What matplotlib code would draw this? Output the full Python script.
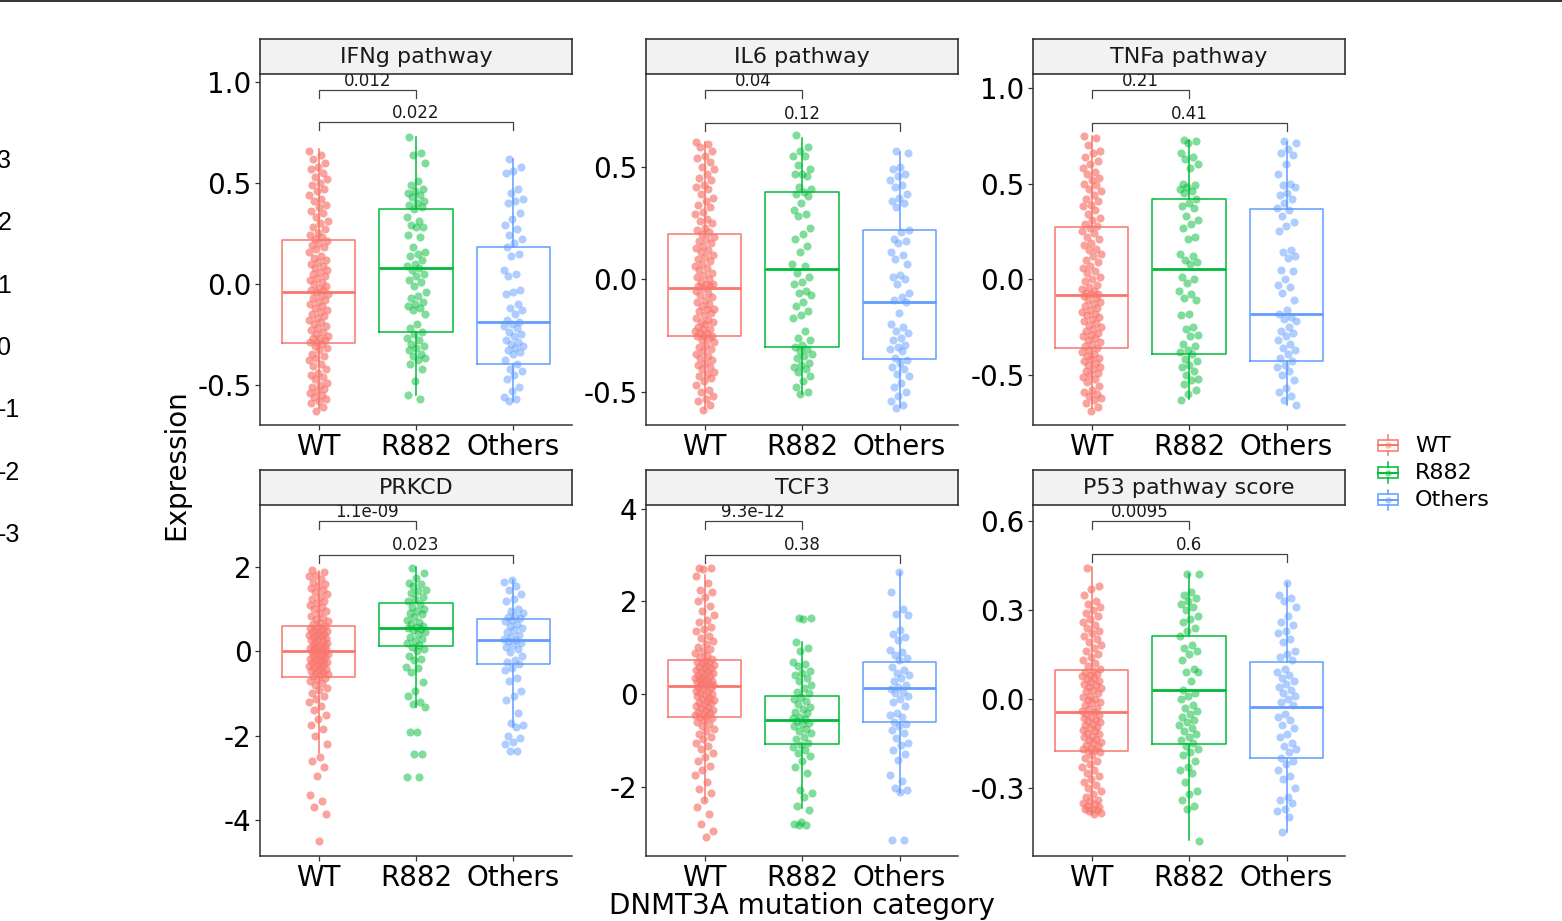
import matplotlib
matplotlib.use("Agg")
import matplotlib.pyplot as plt
import numpy as np
from matplotlib.patches import Rectangle

plt.rcParams["font.family"] = "DejaVu Sans"
plt.rcParams["axes.unicode_minus"] = False

W, H = 1562, 921

GROUPS = ["WT", "R882", "Others"]
COLORS = ["#F8766D", "#00BA38", "#619CFF"]
PANELS = ["IFNg pathway", "IL6 pathway", "TNFa pathway",
          "PRKCD", "TCF3", "P53 pathway score"]

P_VALUES = [["0.012", "0.022"], ["0.04", "0.12"], ["0.21", "0.41"],
            ["1.1e-09", "0.023"], ["9.3e-12", "0.38"], ["0.0095", "0.6"]]
BRACKET_Y = [[0.96, 0.80], [0.84, 0.693], [0.988, 0.815],
             [3.08, 2.29], [3.73, 3.01], [0.599, 0.487]]

Y_LIMITS = [(-0.70, 1.04), (-0.647, 0.913), (-0.763, 1.073),
            (-4.85, 3.47), (-3.5, 4.08), (-0.53, 0.653)]
Y_TICKS = [[-0.5, 0.0, 0.5, 1.0], [-0.5, 0.0, 0.5], [-0.5, 0.0, 0.5, 1.0],
           [-4, -2, 0, 2], [-2, 0, 2, 4], [-0.3, 0.0, 0.3, 0.6]]
Y_TICK_LABELS = [["-0.5", "0.0", "0.5", "1.0"], ["-0.5", "0.0", "0.5"],
                 ["-0.5", "0.0", "0.5", "1.0"], ["-4", "-2", "0", "2"],
                 ["-2", "0", "2", "4"], ["-0.3", "0.0", "0.3", "0.6"]]

# box statistics per panel, order WT / R882 / Others
MEDIANS = [[-0.04, 0.08, -0.19], [-0.04, 0.045, -0.10], [-0.084, 0.052, -0.18],
           [0.0, 0.56, 0.26], [0.165, -0.554, 0.12], [-0.046, 0.029, -0.029]]
Q1 = [[-0.292, -0.24, -0.40], [-0.253, -0.30, -0.353], [-0.36, -0.392, -0.43],
      [-0.60, 0.134, -0.31], [-0.49, -1.086, -0.60], [-0.176, -0.153, -0.199]]
Q3 = [[0.218, 0.37, 0.183], [0.204, 0.39, 0.218], [0.272, 0.418, 0.366],
      [0.60, 1.146, 0.76], [0.734, -0.036, 0.70], [0.097, 0.211, 0.124]]
WHISKER_LO = [[-0.615, -0.55, -0.58], [-0.575, -0.51, -0.565], [-0.675, -0.625, -0.66],
              [-2.4, -1.32, -1.79], [-2.32, -2.47, -2.14], [-0.392, -0.476, -0.448]]
WHISKER_HI = [[0.67, 0.73, 0.62], [0.61, 0.63, 0.565], [0.75, 0.727, 0.718],
              [1.9, 2.0, 1.70], [2.57, 1.13, 2.63], [0.443, 0.42, 0.389]]

# sample values (read / estimated from the picture)
WT_POINTS = [
    [0.66, 0.64, 0.62, 0.60, 0.58, 0.57, 0.55, 0.53, 0.52, 0.50, 0.49, 0.47, 0.46, 0.44,
     0.42, 0.41, 0.39, 0.38, 0.36, 0.35, 0.33, 0.31, 0.30, 0.28, 0.27, 0.25, 0.24, 0.23,
     0.22, 0.21, 0.20, 0.19, 0.18, 0.17, 0.16, 0.14, 0.13, 0.12, 0.11, 0.10, 0.09, 0.08,
     0.07, 0.06, 0.05, 0.04, 0.03, 0.02, 0.01, 0.00, -0.01, -0.02, -0.03, -0.03, -0.04,
     -0.05, -0.06, -0.07, -0.08, -0.09, -0.10, -0.11, -0.12, -0.13, -0.14, -0.15, -0.16,
     -0.17, -0.18, -0.19, -0.20, -0.21, -0.22, -0.23, -0.24, -0.25, -0.26, -0.27, -0.27,
     -0.28, -0.29, -0.29, -0.30, -0.31, -0.32, -0.33, -0.35, -0.36, -0.37, -0.38, -0.40,
     -0.41, -0.42, -0.44, -0.45, -0.46, -0.47, -0.49, -0.50, -0.51, -0.52, -0.53, -0.54,
     -0.55, -0.56, -0.57, -0.58, -0.59, -0.61, -0.63],
    [0.61, 0.60, 0.59, 0.57, 0.55, 0.54, 0.52, 0.50, 0.49, 0.47, 0.45, 0.44, 0.42, 0.41,
     0.40, 0.38, 0.36, 0.35, 0.33, 0.32, 0.30, 0.29, 0.27, 0.26, 0.25, 0.23, 0.22, 0.21,
     0.20, 0.19, 0.18, 0.17, 0.16, 0.15, 0.14, 0.13, 0.12, 0.11, 0.10, 0.09, 0.08, 0.07,
     0.06, 0.05, 0.04, 0.03, 0.02, 0.01, 0.00, -0.01, -0.02, -0.02, -0.03, -0.03, -0.04,
     -0.05, -0.06, -0.07, -0.08, -0.09, -0.10, -0.11, -0.12, -0.13, -0.13, -0.14, -0.15,
     -0.16, -0.17, -0.18, -0.19, -0.19, -0.20, -0.21, -0.22, -0.22, -0.23, -0.24, -0.24,
     -0.25, -0.25, -0.25, -0.26, -0.27, -0.28, -0.29, -0.30, -0.31, -0.32, -0.33, -0.34,
     -0.35, -0.36, -0.37, -0.38, -0.39, -0.40, -0.41, -0.42, -0.43, -0.44, -0.45, -0.47,
     -0.49, -0.50, -0.52, -0.53, -0.54, -0.56, -0.58],
    [0.75, 0.74, 0.70, 0.67, 0.66, 0.64, 0.62, 0.60, 0.58, 0.56, 0.55, 0.53, 0.52, 0.50,
     0.49, 0.47, 0.46, 0.44, 0.42, 0.41, 0.39, 0.38, 0.36, 0.34, 0.32, 0.31, 0.29, 0.28,
     0.27, 0.25, 0.24, 0.22, 0.21, 0.19, 0.18, 0.16, 0.15, 0.13, 0.12, 0.10, 0.09, 0.07,
     0.06, 0.04, 0.03, 0.01, 0.00, -0.01, -0.03, -0.04, -0.05, -0.06, -0.07, -0.08, -0.08,
     -0.09, -0.10, -0.11, -0.12, -0.13, -0.14, -0.15, -0.16, -0.17, -0.18, -0.19, -0.20,
     -0.21, -0.22, -0.23, -0.24, -0.25, -0.26, -0.27, -0.28, -0.29, -0.30, -0.31, -0.32,
     -0.33, -0.34, -0.35, -0.36, -0.37, -0.38, -0.39, -0.40, -0.41, -0.42, -0.43, -0.44,
     -0.45, -0.46, -0.47, -0.48, -0.49, -0.50, -0.51, -0.52, -0.54, -0.56, -0.58, -0.59,
     -0.60, -0.61, -0.62, -0.63, -0.65, -0.67, -0.69],
    [1.92, 1.88, 1.82, 1.78, 1.72, 1.65, 1.60, 1.55, 1.50, 1.45, 1.40, 1.35, 1.30, 1.25,
     1.20, 1.15, 1.10, 1.05, 1.00, 0.95, 0.90, 0.85, 0.80, 0.76, 0.72, 0.68, 0.64, 0.61,
     0.58, 0.56, 0.53, 0.51, 0.49, 0.47, 0.45, 0.42, 0.40, 0.38, 0.36, 0.33, 0.31, 0.29,
     0.27, 0.24, 0.22, 0.20, 0.18, 0.15, 0.13, 0.11, 0.09, 0.07, 0.05, 0.03, 0.01,
     -0.01, -0.03, -0.05, -0.07, -0.09, -0.11, -0.13, -0.15, -0.18, -0.20, -0.22, -0.24,
     -0.26, -0.28, -0.30, -0.33, -0.35, -0.37, -0.39, -0.42, -0.44, -0.46, -0.49, -0.51,
     -0.54, -0.56, -0.59, -0.62, -0.66, -0.70, -0.75, -0.80, -0.86, -0.92, -0.98, -1.05,
     -1.12, -1.20, -1.30, -1.40, -1.50, -1.60, -1.75, -1.85, -2.00, -2.20, -2.50, -2.60,
     -2.75, -2.95, -3.40, -3.55, -3.70, -3.85, -4.50],
    [2.72, 2.72, 2.70, 2.55, 2.40, 2.25, 2.20, 2.10, 2.00, 1.90, 1.80, 1.70, 1.60, 1.55,
     1.45, 1.40, 1.35, 1.25, 1.20, 1.15, 1.08, 1.02, 0.98, 0.92, 0.88, 0.83, 0.79, 0.75,
     0.72, 0.70, 0.68, 0.66, 0.63, 0.61, 0.59, 0.57, 0.55, 0.52, 0.50, 0.48, 0.46, 0.44,
     0.41, 0.39, 0.37, 0.35, 0.33, 0.31, 0.29, 0.27, 0.25, 0.23, 0.21, 0.19, 0.17,
     0.15, 0.12, 0.10, 0.07, 0.05, 0.02, 0.00, -0.03, -0.05, -0.08, -0.10, -0.13, -0.15,
     -0.18, -0.20, -0.23, -0.26, -0.28, -0.31, -0.34, -0.36, -0.39, -0.41, -0.43, -0.45,
     -0.47, -0.49, -0.52, -0.56, -0.60, -0.65, -0.70, -0.75, -0.80, -0.86, -0.92, -0.98,
     -1.05, -1.12, -1.20, -1.28, -1.36, -1.45, -1.55, -1.65, -1.75, -1.90, -2.05, -2.15,
     -2.30, -2.45, -2.60, -2.80, -2.95, -3.08],
    [0.44, 0.38, 0.37, 0.35, 0.33, 0.32, 0.31, 0.30, 0.29, 0.28, 0.27, 0.26, 0.25, 0.24,
     0.23, 0.22, 0.21, 0.20, 0.19, 0.18, 0.17, 0.16, 0.15, 0.14, 0.13, 0.12, 0.11, 0.10,
     0.095, 0.09, 0.085, 0.08, 0.075, 0.07, 0.065, 0.06, 0.055, 0.05, 0.045, 0.04, 0.035,
     0.03, 0.025, 0.02, 0.01, 0.005, 0.00, -0.005, -0.01, -0.015, -0.02, -0.03, -0.035,
     -0.04, -0.045, -0.05, -0.055, -0.06, -0.065, -0.07, -0.075, -0.08, -0.085, -0.09,
     -0.095, -0.10, -0.105, -0.11, -0.115, -0.12, -0.125, -0.13, -0.135, -0.14, -0.145,
     -0.15, -0.155, -0.16, -0.165, -0.17, -0.172, -0.175, -0.18, -0.19, -0.20, -0.21,
     -0.22, -0.23, -0.24, -0.25, -0.26, -0.27, -0.28, -0.29, -0.30, -0.31, -0.32, -0.33,
     -0.34, -0.345, -0.35, -0.355, -0.36, -0.365, -0.37, -0.37, -0.375, -0.38, -0.385, -0.39],
]

R882_POINTS = [
    [0.73, 0.65, 0.64, 0.60, 0.51, 0.49, 0.47, 0.46, 0.45, 0.44, 0.43, 0.41, 0.40, 0.39,
     0.38, 0.37, 0.33, 0.31, 0.29, 0.28, 0.28, 0.24, 0.23, 0.18, 0.16, 0.15, 0.14, 0.12,
     0.10, 0.09, 0.08, 0.07, 0.05, 0.04, 0.02, 0.01, -0.01, -0.04, -0.06, -0.07, -0.09,
     -0.10, -0.11, -0.12, -0.13, -0.15, -0.20, -0.22, -0.24, -0.25, -0.27, -0.28, -0.30,
     -0.31, -0.32, -0.33, -0.35, -0.36, -0.37, -0.38, -0.40, -0.42, -0.48, -0.55, -0.57],
    [0.64, 0.59, 0.57, 0.55, 0.55, 0.51, 0.49, 0.47, 0.47, 0.46, 0.41, 0.40, 0.39, 0.38,
     0.37, 0.34, 0.31, 0.29, 0.28, 0.23, 0.20, 0.18, 0.15, 0.12, 0.07, 0.06, 0.03, 0.01,
     -0.01, -0.02, -0.05, -0.06, -0.07, -0.10, -0.12, -0.14, -0.16, -0.17, -0.23, -0.26,
     -0.27, -0.29, -0.30, -0.31, -0.32, -0.33, -0.34, -0.35, -0.37, -0.38, -0.39, -0.40,
     -0.41, -0.43, -0.45, -0.48, -0.50, -0.51],
    [0.73, 0.72, 0.71, 0.66, 0.64, 0.63, 0.60, 0.58, 0.50, 0.49, 0.48, 0.47, 0.46, 0.45,
     0.42, 0.40, 0.38, 0.37, 0.33, 0.31, 0.29, 0.27, 0.22, 0.21, 0.13, 0.12, 0.10, 0.09,
     0.08, 0.01, 0.00, -0.02, -0.06, -0.08, -0.10, -0.11, -0.18, -0.19, -0.25, -0.26,
     -0.29, -0.30, -0.34, -0.35, -0.37, -0.38, -0.39, -0.42, -0.43, -0.45, -0.46, -0.48,
     -0.50, -0.52, -0.53, -0.55, -0.58, -0.60, -0.63],
    [1.98, 1.85, 1.75, 1.62, 1.60, 1.55, 1.45, 1.42, 1.38, 1.30, 1.25, 1.20, 1.13, 1.05,
     1.00, 0.95, 0.92, 0.88, 0.82, 0.74, 0.70, 0.65, 0.60, 0.58, 0.55, 0.52, 0.50, 0.47,
     0.42, 0.34, 0.30, 0.25, 0.20, 0.15, 0.10, 0.05, 0.00, -0.10, -0.18, -0.20, -0.37,
     -0.40, -0.50, -0.73, -0.95, -1.05, -1.20, -1.24, -1.32, -1.91, -1.91, -2.43, -2.43,
     -2.98, -2.98],
    [1.63, 1.63, 1.62, 1.13, 0.99, 0.92, 0.70, 0.65, 0.60, 0.50, 0.45, 0.40, 0.35, 0.28,
     0.20, 0.12, 0.05, 0.01, -0.06, -0.10, -0.15, -0.22, -0.28, -0.33, -0.38, -0.42,
     -0.49, -0.52, -0.55, -0.58, -0.62, -0.66, -0.70, -0.75, -0.80, -0.85, -0.92, -0.98,
     -1.05, -1.10, -1.15, -1.21, -1.28, -1.35, -1.45, -1.57, -1.71, -2.07, -2.15, -2.22,
     -2.43, -2.50, -2.76, -2.80, -2.83, -2.83],
    [0.42, 0.42, 0.36, 0.35, 0.34, 0.33, 0.32, 0.31, 0.30, 0.28, 0.27, 0.26, 0.24, 0.23,
     0.21, 0.18, 0.17, 0.16, 0.15, 0.13, 0.10, 0.09, 0.09, 0.06, 0.03, 0.02, 0.01, 0.00,
     -0.02, -0.03, -0.04, -0.05, -0.06, -0.07, -0.08, -0.09, -0.10, -0.11, -0.12, -0.13,
     -0.14, -0.15, -0.16, -0.17, -0.18, -0.19, -0.21, -0.23, -0.24, -0.25, -0.28, -0.31,
     -0.32, -0.34, -0.36, -0.37, -0.48],
]

OTHERS_POINTS = [
    [0.62, 0.58, 0.56, 0.55, 0.47, 0.45, 0.42, 0.41, 0.40, 0.35, 0.32, 0.29, 0.27, 0.24,
     0.22, 0.20, 0.18, 0.15, 0.14, 0.07, 0.05, 0.04, -0.03, -0.04, -0.05, -0.10, -0.12,
     -0.13, -0.15, -0.18, -0.19, -0.20, -0.21, -0.22, -0.24, -0.25, -0.26, -0.28, -0.29,
     -0.30, -0.31, -0.32, -0.33, -0.34, -0.35, -0.38, -0.40, -0.42, -0.43, -0.45, -0.47,
     -0.51, -0.53, -0.56, -0.57, -0.58],
    [0.57, 0.56, 0.50, 0.49, 0.47, 0.46, 0.44, 0.42, 0.41, 0.38, 0.36, 0.35, 0.34, 0.32,
     0.22, 0.21, 0.18, 0.17, 0.16, 0.12, 0.11, 0.09, 0.07, 0.02, 0.01, 0.00, -0.02, -0.06,
     -0.08, -0.09, -0.10, -0.15, -0.20, -0.21, -0.23, -0.24, -0.26, -0.27, -0.29, -0.30,
     -0.31, -0.32, -0.35, -0.36, -0.37, -0.39, -0.40, -0.42, -0.43, -0.46, -0.48, -0.50,
     -0.52, -0.54, -0.56, -0.57],
    [0.72, 0.71, 0.68, 0.66, 0.65, 0.60, 0.55, 0.50, 0.49, 0.48, 0.45, 0.44, 0.42, 0.40,
     0.37, 0.36, 0.33, 0.30, 0.28, 0.25, 0.15, 0.14, 0.12, 0.11, 0.05, 0.04, 0.00, -0.03,
     -0.04, -0.07, -0.11, -0.16, -0.18, -0.20, -0.21, -0.22, -0.25, -0.27, -0.28, -0.30,
     -0.32, -0.34, -0.36, -0.37, -0.39, -0.41, -0.43, -0.45, -0.46, -0.48, -0.50, -0.53,
     -0.57, -0.59, -0.61, -0.63, -0.66],
    [1.70, 1.65, 1.55, 1.45, 1.35, 1.25, 1.20, 1.00, 0.95, 0.90, 0.85, 0.82, 0.80, 0.75,
     0.72, 0.65, 0.60, 0.55, 0.50, 0.45, 0.40, 0.35, 0.30, 0.27, 0.25, 0.20, 0.15, 0.10,
     0.05, -0.02, -0.10, -0.20, -0.25, -0.30, -0.40, -0.45, -0.62, -0.70, -0.95, -1.05,
     -1.15, -1.45, -1.70, -1.75, -1.80, -2.00, -2.05, -2.15, -2.20, -2.35, -2.35],
    [2.63, 2.20, 1.83, 1.72, 1.70, 1.38, 1.30, 1.22, 1.17, 0.95, 0.90, 0.85, 0.78, 0.73,
     0.59, 0.52, 0.45, 0.40, 0.35, 0.28, 0.20, 0.16, 0.10, 0.05, 0.01, -0.05, -0.10,
     -0.18, -0.27, -0.42, -0.45, -0.50, -0.60, -0.65, -0.70, -0.78, -0.85, -0.95, -1.06,
     -1.10, -1.21, -1.30, -1.42, -1.75, -1.89, -2.04, -2.08, -2.11, -3.15, -3.15],
    [0.39, 0.35, 0.34, 0.33, 0.31, 0.28, 0.26, 0.25, 0.23, 0.22, 0.20, 0.19, 0.16, 0.15,
     0.14, 0.13, 0.10, 0.09, 0.08, 0.07, 0.06, 0.05, 0.04, 0.03, 0.02, 0.01, 0.00, -0.01,
     -0.02, -0.05, -0.06, -0.07, -0.09, -0.10, -0.12, -0.13, -0.15, -0.16, -0.17, -0.18,
     -0.20, -0.21, -0.22, -0.24, -0.26, -0.27, -0.30, -0.33, -0.34, -0.35, -0.37, -0.38,
     -0.40, -0.45],
]

STRAY_LABELS = ["3", "2", "1", "0", "-1", "-2", "-3"]

# layout in pixels
COL_X = [260, 646, 1033]
PANEL_W = 312
ROWS = [(39, 74, 425), (470, 505, 856)]
DARK = "#333333"
POINT_ALPHA = [0.68, 0.5, 0.5]


def px_rect(x0, y0, x1, y1):
    return [x0 / W, 1 - y1 / H, (x1 - x0) / W, (y1 - y0) / H]


def jitter(n, shift):
    frac = np.mod(np.arange(n) * 0.6180339887 + shift, 1.0)
    return (frac * 2 - 1) * 0.1


def draw_panel(fig, idx):
    col, row = idx % 3, idx // 3
    x0 = COL_X[col]
    strip_top, ax_top, ax_bottom = ROWS[row]

    ax = fig.add_axes(px_rect(x0, ax_top, x0 + PANEL_W, ax_bottom))

    stats = []
    for g in range(3):
        stats.append(dict(med=MEDIANS[idx][g], q1=Q1[idx][g], q3=Q3[idx][g],
                          whislo=WHISKER_LO[idx][g], whishi=WHISKER_HI[idx][g],
                          fliers=[]))
    bp = ax.bxp(stats, positions=[1, 2, 3], widths=0.75, showcaps=False,
                showfliers=False, zorder=2)
    for g, color in enumerate(COLORS):
        bp["boxes"][g].set(color=color, linewidth=1.1)
        bp["medians"][g].set(color=color, linewidth=2.0)
        for w in bp["whiskers"][2 * g:2 * g + 2]:
            w.set(color=color, linewidth=1.1)

    groups_pts = [WT_POINTS[idx], R882_POINTS[idx], OTHERS_POINTS[idx]]
    for g, (pts, color) in enumerate(zip(groups_pts, COLORS)):
        pts = np.asarray(pts)
        xs = g + 1 + jitter(len(pts), 0.13 * g + 0.05 * idx)
        ax.scatter(xs, pts, s=34, color=color, alpha=POINT_ALPHA[g],
                   linewidths=0, zorder=3)

    ymin, ymax = Y_LIMITS[idx]
    tick = (ymax - ymin) * 8 / 351
    for x2, y, label in zip([2, 3], BRACKET_Y[idx], P_VALUES[idx]):
        ax.plot([1, 1, x2, x2], [y - tick, y, y, y - tick], color="#444444",
                linewidth=0.9, clip_on=False, zorder=4)
        ax.annotate(label, ((1 + x2) / 2, y), xytext=(0, 0.3),
                    textcoords="offset points", ha="center", va="bottom",
                    fontsize=12, color="#1a1a1a", zorder=5)

    ax.set_xlim(0.4, 3.6)
    ax.set_ylim(ymin, ymax)
    ax.set_xticks([1, 2, 3])
    ax.set_xticklabels(GROUPS)
    ax.set_yticks(Y_TICKS[idx])
    ax.set_yticklabels(Y_TICK_LABELS[idx])
    ax.tick_params(labelsize=20, colors=DARK, labelcolor="black",
                   length=3.5, width=0.9, pad=2.5)
    for side in ["top", "right"]:
        ax.spines[side].set_visible(False)
    for side in ["left", "bottom"]:
        ax.spines[side].set_color(DARK)
        ax.spines[side].set_linewidth(1.1)
    ax.set_facecolor("white")

    strip = fig.add_axes(px_rect(x0, strip_top, x0 + PANEL_W, ax_top))
    strip.set_facecolor("#F2F2F2")
    strip.set_xticks([])
    strip.set_yticks([])
    for sp in strip.spines.values():
        sp.set_color(DARK)
        sp.set_linewidth(1.2)
    strip.text(0.5, 0.48, PANELS[idx], transform=strip.transAxes, ha="center",
               va="center", fontsize=16, color="#1a1a1a")


def draw_legend(fig):
    lax = fig.add_axes(px_rect(1365, 425, 1520, 515))
    lax.set_xlim(1365, 1520)
    lax.set_ylim(515, 425)
    lax.axis("off")
    for i, (name, color) in enumerate(zip(GROUPS, COLORS)):
        cy = 445.5 + i * 27
        lax.add_patch(Rectangle((1378, cy - 5.5), 20, 11, fill=False,
                                edgecolor=color, linewidth=1.1))
        lax.plot([1378, 1398], [cy, cy], color=color, linewidth=1.4)
        lax.plot([1388, 1388], [cy - 10, cy - 5.5], color=color, linewidth=1.1)
        lax.plot([1388, 1388], [cy + 5.5, cy + 10], color=color, linewidth=1.1)
        lax.scatter([1388], [cy], s=22, color=color, alpha=0.5, linewidths=0)
        lax.text(1415, cy, name, fontsize=16, va="center", ha="left", color="black")


def main():
    fig = plt.figure(figsize=(W / 100, H / 100), dpi=100)
    fig.patch.set_facecolor("white")

    for idx in range(len(PANELS)):
        draw_panel(fig, idx)
    draw_legend(fig)

    fig.text(176 / W, 1 - 465 / H, "Expression", rotation=90, ha="center",
             va="center", fontsize=20, color="black")
    fig.text(802 / W, 1 - 906 / H, "DNMT3A mutation category", ha="center",
             va="center", fontsize=20, color="black")

    # leftover colour-scale labels at the left edge
    for i, lab in enumerate(STRAY_LABELS):
        fig.text(-2.5 / W, 1 - (161 + i * 62.3) / H, lab, ha="left", va="center",
                 fontsize=18, family=["Liberation Sans", "DejaVu Sans"],
                 color="black")

    # thin rule along the top edge
    fig.add_artist(plt.Line2D([0, 1], [1 - 0.8 / H, 1 - 0.8 / H],
                              transform=fig.transFigure, color=DARK, linewidth=1.4))

    fig.savefig("out.png", dpi=100, facecolor="white")
    plt.close(fig)


if __name__ == "__main__":
    main()
